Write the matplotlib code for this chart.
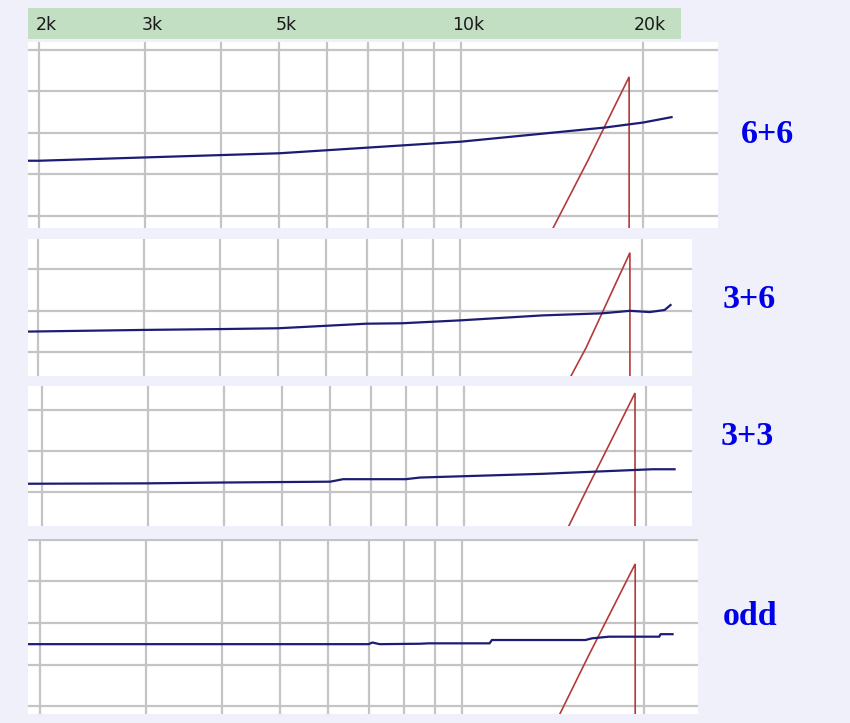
import matplotlib
matplotlib.use('Agg')
import matplotlib.pyplot as plt
import matplotlib.transforms as mtransforms

"""Four stacked spectrum panels (log frequency) with a shared green scale bar on top"""

# scale bar labels
SCALE_FREQS = [2000, 3000, 5000, 10000, 20000]
SCALE_LABELS = ['2k', '3k', '5k', '10k', '20k']
GRID_FREQS = [2000, 3000, 4000, 5000, 6000, 7000, 8000, 9000, 10000, 20000]

PANEL_LABELS = ['6+6', '3+6', '3+3', 'odd']

# blue trace, level in grid units (10 per division)
BLUE_FREQ_66 = [1920, 2000, 3000, 5000, 8000, 10000, 17300, 20000, 22300]
BLUE_LEVEL_66 = [-6.7, -6.7, -5.9, -4.9, -3.0, -2.1, 1.3, 2.5, 3.8]
BLUE_FREQ_36 = [1925, 3000, 4000, 5000, 7000, 8000, 10000, 13700, 17200, 19100, 20600, 21800, 22300]
BLUE_LEVEL_36 = [-5.0, -4.6, -4.4, -4.2, -3.1, -3.0, -2.3, -1.1, -0.6, 0.0, -0.3, 0.2, 1.4]
BLUE_FREQ_33 = [1900, 3000, 4000, 6000, 6300, 8000, 8450, 10400, 13500, 17600, 20500, 22300]
BLUE_LEVEL_33 = [-7.9, -7.8, -7.6, -7.4, -6.8, -6.8, -6.4, -6.0, -5.5, -4.8, -4.4, -4.4]
BLUE_FREQ_ODD = [1910, 7000, 7100, 7300, 8500, 8800, 11100, 11200, 16000, 16400, 17500, 21200, 21300, 22300]
BLUE_LEVEL_ODD = [-5.1, -5.1, -4.7, -5.1, -5.0, -4.9, -4.9, -4.1, -4.1, -3.7, -3.3, -3.3, -2.7, -2.7]

# red trace: rising slope, peak, then vertical drop
RED_FREQ_66 = [14000, 16230, 18970, 18970]
RED_LEVEL_66 = [-24.6, -6.5, 13.5, -40]
RED_FREQ_36 = [14500, 16160, 19100, 19100]
RED_LEVEL_36 = [-21.7, -8.9, 14.0, -40]
RED_FREQ_33 = [14300, 16040, 19180, 19180]
RED_LEVEL_33 = [-23.4, -8.6, 14.0, -40]
RED_FREQ_ODD = [14000, 16160, 19340, 19340]
RED_LEVEL_ODD = [-26.5, -8.1, 14.2, -40]

W, H = 850, 723
BG = '#f0f0fb'
GRID = '#c4c4c4'
BLUE = '#1c1c74'
RED = '#b43a3a'
DECADE_PX = 604.0


def px_to_freq(px: float, x2k: float) -> float:
    return 2000 * 10 ** ((px - x2k) / DECADE_PX)


def add_box(fig, left, top, right, bottom):
    return fig.add_axes([left / W, 1 - bottom / H, (right - left) / W, (bottom - top) / H])


def draw_panel(fig, box, x2k, ylim, blue, red, label, label_xy):
    left, top, right, bottom = box
    ax = add_box(fig, *box)
    ax.set_facecolor('white')
    ax.set_xscale('log')
    ax.set_xlim(px_to_freq(left, x2k), px_to_freq(right, x2k))
    ax.set_ylim(*ylim)
    ax.set_xticks(GRID_FREQS)
    ax.xaxis.set_minor_locator(matplotlib.ticker.NullLocator())
    ax.set_yticks([v for v in range(-30, 31, 10) if ylim[0] <= v <= ylim[1]])
    ax.tick_params(length=0, labelbottom=False, labelleft=False)
    ax.grid(True, color=GRID, linewidth=1.6)
    ax.set_axisbelow(True)
    for spine in ax.spines.values():
        spine.set_visible(False)

    ax.plot(*red, color=RED, linewidth=1.2, solid_joinstyle='miter')
    ax.plot(*blue, color=BLUE, linewidth=1.6, drawstyle='default')

    fig.text(label_xy[0] / W, 1 - label_xy[1] / H, label, color='#0000e8',
             fontsize=24.5, fontweight='bold', family=['Liberation Serif', 'DejaVu Serif'],
             ha='center', va='baseline')


def main():
    fig = plt.figure(figsize=(W / 100, H / 100), dpi=100, facecolor=BG)

    # green scale bar
    bar = add_box(fig, 28, 8, 681, 39)
    bar.set_facecolor('#c3dfc3')
    bar.set_xscale('log')
    bar.set_xlim(px_to_freq(28, 39), px_to_freq(681, 39))
    bar.set_ylim(0, 1)
    bar.axis('off')
    bar.add_patch(plt.Rectangle((0, 0), 1, 1, transform=bar.transAxes, color='#c3dfc3', zorder=0))
    shift = mtransforms.offset_copy(bar.get_xaxis_transform(), fig=fig, x=7, y=0, units='dots')
    for freq, text in zip(SCALE_FREQS, SCALE_LABELS):
        bar.text(freq, 0.45, text, transform=shift, ha='center', va='center',
                 fontsize=12.5, color='#1a1a1a', family='DejaVu Sans')

    panels = [
        ((28, 42, 718, 228), 39, (-22.9, 21.9), (BLUE_FREQ_66, BLUE_LEVEL_66), (RED_FREQ_66, RED_LEVEL_66), (767, 143)),
        ((28, 239, 692, 376), 38, (-15.7, 17.3), (BLUE_FREQ_36, BLUE_LEVEL_36), (RED_FREQ_36, RED_LEVEL_36), (749, 308)),
        ((28, 386, 692, 526), 42, (-18.1, 15.7), (BLUE_FREQ_33, BLUE_LEVEL_33), (RED_FREQ_33, RED_LEVEL_33), (747, 445)),
        ((28, 539, 698, 714), 40, (-21.9, 20.2), (BLUE_FREQ_ODD, BLUE_LEVEL_ODD), (RED_FREQ_ODD, RED_LEVEL_ODD), (750, 625)),
    ]
    for (box, x2k, ylim, blue, red, label_xy), label in zip(panels, PANEL_LABELS):
        draw_panel(fig, box, x2k, ylim, blue, red, label, label_xy)

    fig.savefig('out.png', dpi=100, facecolor=BG)


if __name__ == '__main__':
    main()
